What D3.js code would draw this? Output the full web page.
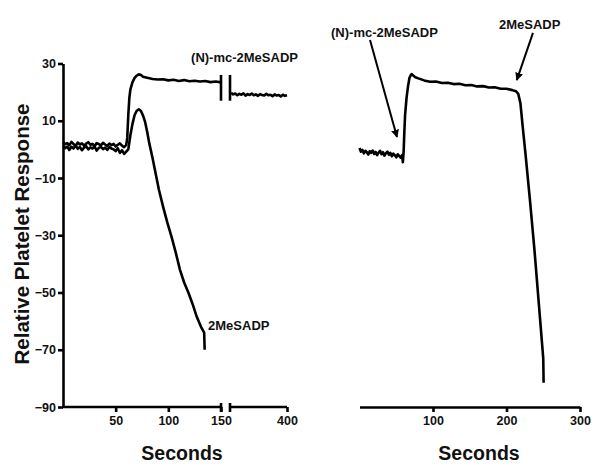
<!DOCTYPE html>
<html>
<head>
<meta charset="utf-8">
<script src="https://cdn.jsdelivr.net/npm/d3@7"></script>
<style>
  body { margin: 0; background: #fff; }
  text { font-family: "Liberation Sans", Arial, sans-serif; font-weight: bold; fill: #111; }
</style>
</head>
<body>
<div id="chart-container"></div>
<script>
// left panel, (N)-mc-2MeSADP trace, before the axis break
const upperTime = [0,2,4,6,8,10,12,14,16,18,20,22,24,26,28,30,32,34,36,38,40,42,44,46,48,50,52,54,56,58,60,
  61,62,63,64,66,68,70,72,74,76,80,85,90,95,100,105,110,115,120,125,130,135,140,145,150];
const upperValue = [2.5,1.8,2.2,1.4,2.6,1.9,1.2,2.4,1.7,2.1,1.3,2.0,2.5,1.6,1.9,1.1,2.2,1.8,1.4,2.3,1.7,1.2,2.0,1.5,1.9,1.0,1.6,2.1,1.3,0.8,1.5,
  4,12,18,21,23.5,25,25.8,26.2,26,25.4,25,24.6,24.4,24.5,24.1,24.3,23.9,24.2,23.8,24.0,23.7,23.9,23.5,23.7,23.4];
// same trace after the break
const upperLateTime = [346,348,350,352,354,356,358,360,362,364,366,368,370,372,374,376,378,380,382,384,386,388,390,392,394,396,398,400];
const upperLateValue = [19.8,19.2,19.5,18.9,19.4,19.1,19.6,18.8,19.3,19.0,19.5,18.9,19.2,18.7,19.3,19.0,18.8,19.4,18.9,19.1,18.6,19.2,18.8,19.0,18.5,19.1,18.7,18.9];
// left panel, 2MeSADP trace
const lowerTime = [0,2,4,6,8,10,12,14,16,18,20,22,24,26,28,30,32,34,36,38,40,42,44,46,48,50,52,54,56,58,60,
  62,64,66,68,70,72,74,76,78,80,82,85,88,91,95,99,103,107,111,115,119,123,127,131,134,134.5];
const lowerValue = [1.2,0.4,1.0,-0.2,0.9,0.3,1.4,0.2,0.8,-0.3,0.6,1.1,0.0,0.7,0.3,1.0,-0.4,0.5,0.9,0.1,0.6,-0.2,0.8,0.3,0.0,-0.6,0.4,-1.2,-0.3,-1.6,-0.8,
  0,5,9,12,13.5,14,13.4,11.8,9.5,6,2,-3,-8.5,-14,-20,-25.5,-30.5,-36,-42,-46.5,-50,-54,-58.5,-62,-64,-70];
// right panel, sequential addition
const rightTime = [0,2,4,6,8,10,12,14,16,18,20,22,24,26,28,30,32,34,36,38,40,42,44,46,48,50,52,54,56,58,
  59,60,61,62,64,66,68,70,71,73,76,80,88,96,104,112,120,128,136,144,152,160,168,176,184,192,200,208,213,216,219,222,226,232,238,244,250,250.5];
const rightValue = [0.5,-0.8,-0.2,-1.4,-0.5,-1.0,-1.8,-0.6,-1.2,-0.4,-1.6,-0.9,-2.0,-1.1,-0.5,-1.7,-1.0,-2.2,-1.3,-0.8,-1.9,-1.2,-2.4,-1.5,-2.0,-2.8,-1.7,-2.3,-2.9,-2.0,
  -4.5,-1,6,12,18,22,25,26,26.3,25.8,25.2,24.8,24.1,23.6,23.7,23.2,23.3,22.8,22.9,22.4,22.5,22.0,22.1,21.6,21.7,21.2,21.2,20.7,20.3,19.4,16,8,-2,-18,-35,-54,-73,-81.5];

const yTicks = [30, 10, -10, -30, -50, -70, -90];
const leftXTicks = [50, 100, 150, 400];
const rightXTicks = [100, 200, 300];

const svg = d3.select("#chart-container").append("svg")
  .attr("width", 600).attr("height", 472);

const y = d3.scaleLinear().domain([-90, 30]).range([407, 63.5]);
// broken axis: 0-150 then 345-400
const xL = d3.scaleLinear().domain([0, 150, 345, 400]).range([63, 221, 230, 287]);
const xR = d3.scaleLinear().domain([0, 300]).range([359.5, 580]);

const zip = (t, v) => t.map((d, i) => [d, v[i]]);
const lineL = d3.line().x(d => xL(d[0])).y(d => y(d[1]));
const lineR = d3.line().x(d => xR(d[0])).y(d => y(d[1]));

function trace(line, pts) {
  svg.append("path").attr("d", line(pts))
    .attr("fill", "none").attr("stroke", "#000")
    .attr("stroke-width", 2.6).attr("stroke-linejoin", "round");
}
trace(lineL, zip(upperTime, upperValue));
trace(lineL, zip(upperLateTime, upperLateValue));
trace(lineL, zip(lowerTime, lowerValue));
trace(lineR, zip(rightTime, rightValue));

// break marks on the upper trace
[150, 345].forEach(t => {
  svg.append("line")
    .attr("x1", xL(t)).attr("x2", xL(t))
    .attr("y1", y(26)).attr("y2", y(17))
    .attr("stroke", "#000").attr("stroke-width", 2.6);
});

// y axis
const yAxis = svg.append("g").attr("transform", "translate(63,0)")
  .call(d3.axisLeft(y).tickValues(yTicks).tickSize(5).tickSizeOuter(0).tickPadding(2));

// left x axis, drawn in two pieces
const xAxisL = svg.append("g").attr("transform", "translate(0,407)")
  .call(d3.axisBottom(xL).tickValues(leftXTicks).tickSize(5).tickPadding(4));
xAxisL.select(".domain").remove();
[[0, 150], [345, 400]].forEach(seg => {
  svg.append("line")
    .attr("x1", xL(seg[0])).attr("x2", xL(seg[1]))
    .attr("y1", 407).attr("y2", 407)
    .attr("stroke", "#000").attr("stroke-width", 2.6);
});
[150, 345].forEach(t => {
  svg.append("line")
    .attr("x1", xL(t)).attr("x2", xL(t))
    .attr("y1", 403).attr("y2", 412)
    .attr("stroke", "#000").attr("stroke-width", 2.6);
});

// right x axis
const xAxisR = svg.append("g").attr("transform", "translate(0,407)")
  .call(d3.axisBottom(xR).tickValues(rightXTicks).tickSize(5).tickSizeOuter(0).tickPadding(4));

svg.selectAll(".domain, .tick line").attr("stroke", "#000").attr("stroke-width", 2.6);
svg.selectAll(".tick text").style("font-size", "12.5px").style("font-weight", "bold")
  .attr("fill", "#111");

// axis titles
svg.append("text").attr("transform", "translate(29,234) rotate(-90)")
  .attr("text-anchor", "middle").style("font-size", "20.5px").text("Relative Platelet Response");
svg.append("text").attr("x", 182).attr("y", 460)
  .attr("text-anchor", "middle").style("font-size", "19.5px").text("Seconds");
svg.append("text").attr("x", 479).attr("y", 460)
  .attr("text-anchor", "middle").style("font-size", "19.5px").text("Seconds");

// labels
svg.append("text").attr("x", xL(359)).attr("y", y(30.5))
  .attr("text-anchor", "middle").style("font-size", "13px").text("(N)-mc-2MeSADP");
svg.append("text").attr("x", xL(137.7)).attr("y", y(-63.2))
  .attr("text-anchor", "start").style("font-size", "13px").text("2MeSADP");
svg.append("text").attr("x", xR(34)).attr("y", y(39.4))
  .attr("text-anchor", "middle").style("font-size", "13px").text("(N)-mc-2MeSADP");
svg.append("text").attr("x", xR(231.6)).attr("y", y(42))
  .attr("text-anchor", "middle").style("font-size", "13px").text("2MeSADP");

// arrows
svg.append("defs").append("marker")
  .attr("id", "head").attr("viewBox", "0 0 10 10")
  .attr("refX", 9).attr("refY", 5)
  .attr("markerWidth", 4).attr("markerHeight", 4)
  .attr("orient", "auto")
  .append("path").attr("d", "M0,0 L10,5 L0,10 Z").attr("fill", "#000");

const arrows = [[14.3, 38.2, 51, 4.3], [236, 40.7, 214, 24.2]];
arrows.forEach(a => {
  svg.append("line")
    .attr("x1", xR(a[0])).attr("y1", y(a[1]))
    .attr("x2", xR(a[2])).attr("y2", y(a[3]))
    .attr("stroke", "#000").attr("stroke-width", 2)
    .attr("marker-end", "url(#head)");
});
</script>
</body>
</html>
